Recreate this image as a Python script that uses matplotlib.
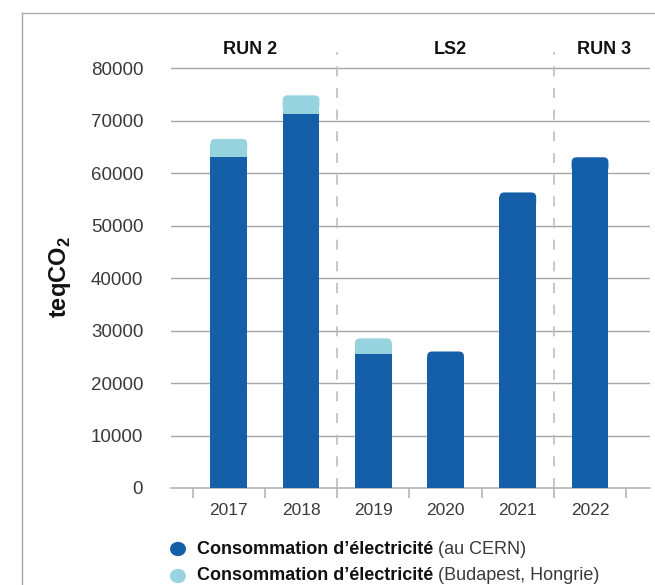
import matplotlib.pyplot as plt
from matplotlib.patches import FancyBboxPatch, Circle
from matplotlib.lines import Line2D

years = ["2017", "2018", "2019", "2020", "2021", "2022"]
cern = [63000, 71300, 25500, 26000, 56300, 63000]
budapest = [3500, 3500, 3000, 0, 0, 0]
periods = ["RUN 2", "LS2", "RUN 3"]
period_pos = [0.29, 3.06, 5.2]
period_breaks = [1.5, 4.5]
legend_bold = ["Consommation d\u2019électricité", "Consommation d\u2019électricité"]
legend_rest = [" (au CERN)", " (Budapest, Hongrie)"]

dark = "#155fa9"
light = "#97d3de"
grid_c = "#a6a6a6"
text_c = "#3a3a3a"

plt.rcParams["font.family"] = ["Liberation Sans", "DejaVu Sans"]
plt.rcParams["mathtext.fontset"] = "custom"
plt.rcParams["mathtext.rm"] = "Liberation Sans"
plt.rcParams["mathtext.bf"] = "Liberation Sans:bold"

W, H = 655, 585
fig = plt.figure(figsize=(W / 100, H / 100), dpi=100)
ax = fig.add_axes([171 / W, 1 - 488 / H, (650 - 171) / W, (488 - 52) / H])

ax.set_xlim(-0.8, 5.83)
ax.set_ylim(0, 83050)

width = 0.51
# corner radius of the bar caps, about 5 px
px_x = (650 - 171) / 6.63
px_y = (488 - 52) / 83050
r_x = 5 / px_x
r_y = 5 / px_y


def bar_with_cap(x, bottom, top, color):
    ax.bar(x, top - bottom - r_y, width, bottom=bottom, color=color, zorder=3, linewidth=0)
    cap = FancyBboxPatch((x - width / 2, top - 3 * r_y), width, 3 * r_y,
                         boxstyle=f"round,pad=0,rounding_size={r_x}",
                         mutation_aspect=r_y / r_x, fc=color, ec="none", zorder=3)
    ax.add_patch(cap)


for i, (c, b) in enumerate(zip(cern, budapest)):
    if b > 0:
        bar_with_cap(i, c, c + b, light)
        ax.bar(i, c, width, color=dark, zorder=4, linewidth=0)
    else:
        bar_with_cap(i, 0, c, dark)

# horizontal grid
ax.set_yticks(range(0, 80001, 10000))
for v in range(10000, 80001, 10000):
    ax.axhline(v, color=grid_c, lw=1, zorder=1)

# dashed separators between periods
for xb in period_breaks:
    ax.axvline(xb, color="#bdbdbd", lw=1.2, dashes=(6, 7), zorder=1)

for name, xp in zip(periods, period_pos):
    ax.text(xp, 1.005, name, transform=ax.get_xaxis_transform(), ha="center",
            va="center", fontsize=13, fontweight="bold", color="#111111")

for s in ["top", "right", "left"]:
    ax.spines[s].set_visible(False)
ax.spines["bottom"].set_color("#b5b5b5")
ax.spines["bottom"].set_linewidth(1.2)

ax.set_xticks([i - 0.5 for i in range(7)])
ax.set_xticklabels([])
ax.set_xticks(range(6), minor=True)
ax.set_xticklabels(years, minor=True)
ax.tick_params(axis="x", which="major", length=7, color="#b5b5b5", width=1.2)
ax.tick_params(axis="x", which="minor", length=0, pad=11, labelsize=12.5, labelcolor=text_c)
ax.tick_params(axis="y", length=0, pad=20, labelsize=13.5, labelcolor=text_c)

fig.text(60 / W, 1 - 277 / H, r"teqCO$_{\mathbf{2}}$", rotation=90, ha="center",
         va="center", fontsize=17, fontweight="bold", color="#111111")

# legend rows
for k, (yy, col) in enumerate([(549, dark), (576, light)]):
    fig.patches.append(Circle((178 / W, 1 - yy / H), 8 / W, transform=fig.transFigure,
                              fc=col, ec="none"))
    t = fig.text(197 / W, 1 - yy / H, legend_bold[k], ha="left", va="center",
                 fontsize=13, fontweight="bold", color="#111111")
    fig.canvas.draw()
    ax.annotate(legend_rest[k], xy=(1, 0), xycoords=t, va="bottom", ha="left",
                fontsize=13, color=text_c, annotation_clip=False)

# outer frame
fig.add_artist(Line2D([22 / W, 22 / W], [0, 1 - 13 / H], transform=fig.transFigure,
                      color="#a9a9a9", lw=1))
fig.add_artist(Line2D([22 / W, 1], [1 - 13 / H, 1 - 13 / H], transform=fig.transFigure,
                      color="#a9a9a9", lw=1))

fig.savefig("out.png", dpi=100)
